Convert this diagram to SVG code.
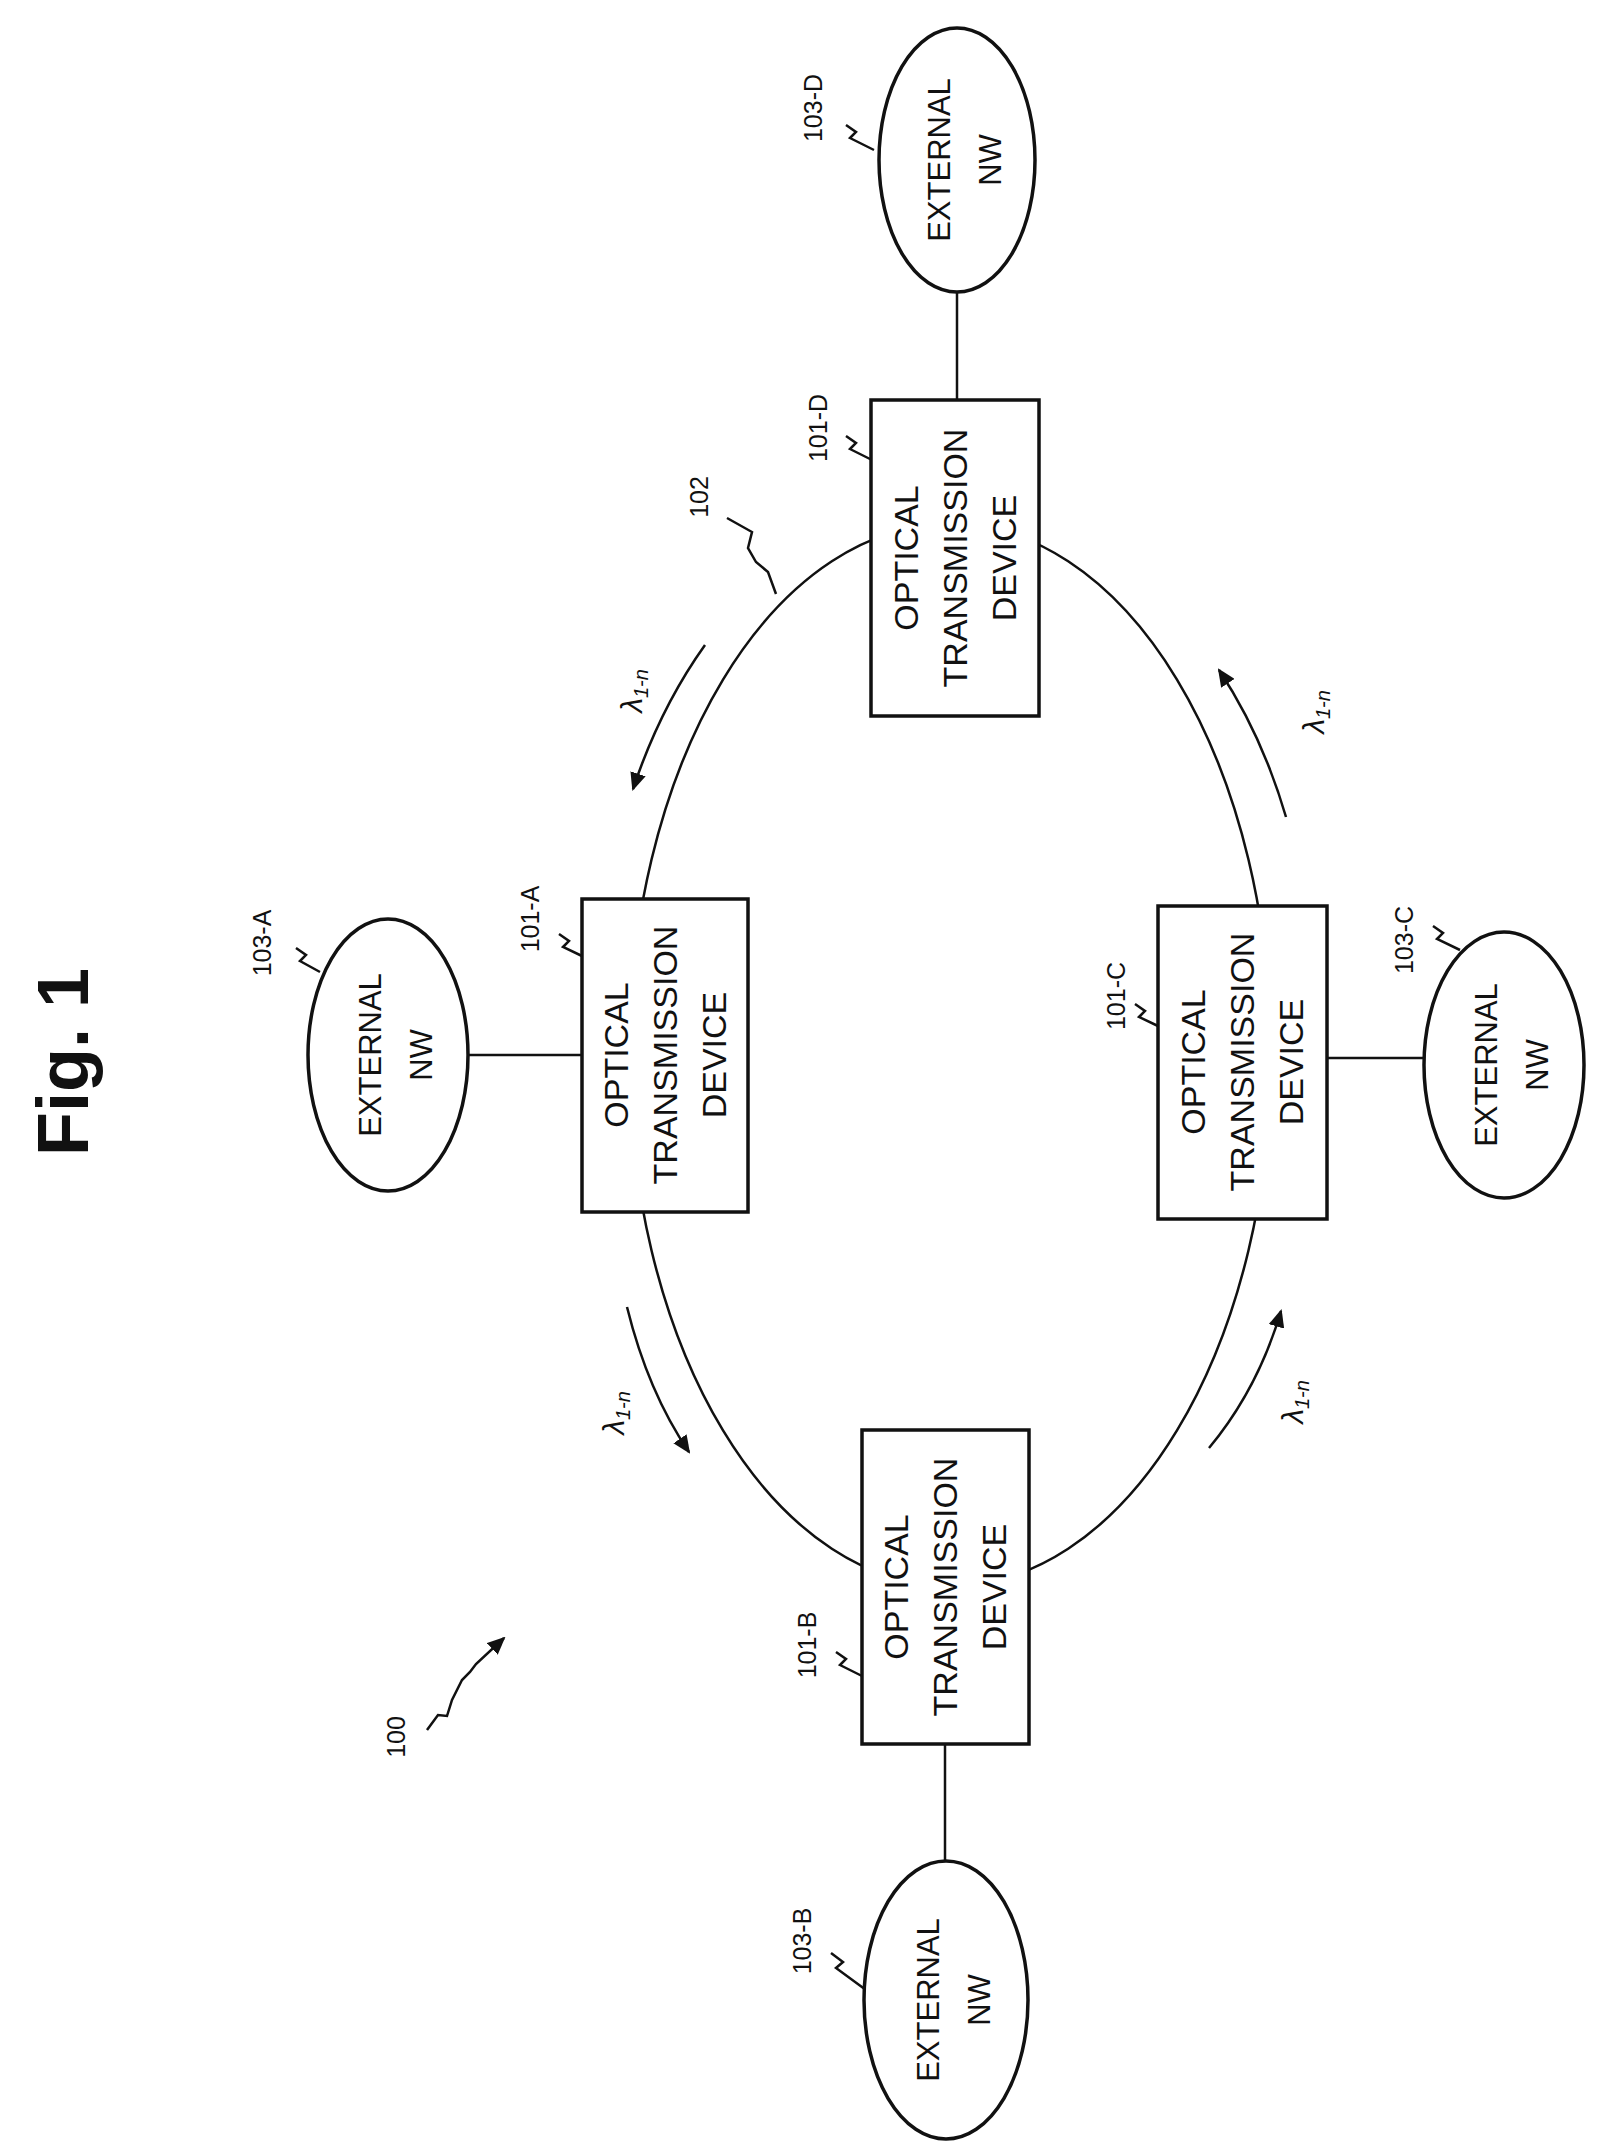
<svg xmlns="http://www.w3.org/2000/svg" width="1612" height="2155" viewBox="0 0 1612 2155">
<style>
.s{fill:none;stroke:#111;stroke-width:2.5}
.b{fill:#fff;stroke:#111;stroke-width:3.5}
.t{font-family:"Liberation Sans",Arial,sans-serif;font-size:34px;fill:#111;text-anchor:middle}
.e{font-family:"Liberation Sans",Arial,sans-serif;font-size:31px;fill:#111;text-anchor:middle}
.l{font-family:"Liberation Sans",Arial,sans-serif;font-size:25px;fill:#111;text-anchor:middle}
.g{font-family:"Liberation Sans",Arial,sans-serif;font-size:30px;fill:#111;text-anchor:middle;font-style:italic}
</style>
<defs>
<marker id="ah" markerWidth="10" markerHeight="10" refX="8" refY="5" orient="auto" markerUnits="userSpaceOnUse" viewBox="0 0 10 10"><path d="M0,0 L10,5 L0,10 z" fill="#111"/></marker>
<marker id="ah2" markerWidth="18" markerHeight="16" refX="16" refY="8" orient="auto" markerUnits="userSpaceOnUse" viewBox="0 0 18 16"><path d="M0,0 L18,8 L0,16 z" fill="#111"/></marker>
</defs>
<text transform="translate(62,1062) rotate(-90)" y="26" style="font-family:'Liberation Sans',Arial,sans-serif;font-size:72px;font-weight:bold;text-anchor:middle;fill:#111">Fig. 1</text>
<g id="connectors">
<ellipse id="ring-102" class="s" cx="950" cy="1055" rx="321" ry="531"/>
<line class="s" x1="957" y1="291" x2="957" y2="400"/>
<line class="s" x1="468" y1="1055" x2="582" y2="1055"/>
<line class="s" x1="1327" y1="1058" x2="1425" y2="1058"/>
<line class="s" x1="945" y1="1744" x2="945" y2="1861"/>
<path class="s" d="M705,645 Q660,708 633,789" marker-end="url(#ah2)"/>
<path class="s" d="M1286,817 Q1262,735 1219,670" marker-end="url(#ah2)"/>
<path class="s" d="M627,1307 Q648,1392 689,1452" marker-end="url(#ah2)"/>
<path class="s" d="M1209,1448 Q1258,1389 1281,1311" marker-end="url(#ah2)"/>
<path class="s" d="M727,518 L752,532 L748,548 L756,562 L768,572 L776,594"/>
<path class="s" d="M427,1730 L438,1715 L447,1716 L452,1700 L462,1680 L470,1672 L476,1664 L504,1638" marker-end="url(#ah2)"/>
<path class="s" d="M846,125 L856,132 L850,138 L874,150"/>
<path class="s" d="M846,436 L856,443 L850,449 L872,460"/>
<path class="s" d="M296,948 L306,955 L300,961 L320,972"/>
<path class="s" d="M559,934 L569,941 L563,947 L582,956"/>
<path class="s" d="M1135,1004 L1145,1011 L1139,1017 L1158,1026"/>
<path class="s" d="M1433,926 L1443,933 L1437,939 L1460,950"/>
<path class="s" d="M836,1652 L846,1659 L840,1665 L862,1676"/>
<path class="s" d="M831,1953 L843,1962 L836,1968 L866,1990"/>
</g>
<g id="node-101-A">
<rect class="b" x="582" y="899" width="166" height="313"/>
<text class="t" transform="translate(665,1055) rotate(-90)"><tspan x="0" y="-37">OPTICAL</tspan><tspan x="0" y="12">TRANSMISSION</tspan><tspan x="0" y="61">DEVICE</tspan></text>
<text class="l" transform="translate(530,919) rotate(-90)" y="9">101-A</text>
</g>
<g id="node-101-B">
<rect class="b" x="862" y="1430" width="167" height="314"/>
<text class="t" transform="translate(945,1587) rotate(-90)"><tspan x="0" y="-37">OPTICAL</tspan><tspan x="0" y="12">TRANSMISSION</tspan><tspan x="0" y="61">DEVICE</tspan></text>
<text class="l" transform="translate(807,1645) rotate(-90)" y="9">101-B</text>
</g>
<g id="node-101-C">
<rect class="b" x="1158" y="906" width="169" height="313"/>
<text class="t" transform="translate(1242,1062) rotate(-90)"><tspan x="0" y="-37">OPTICAL</tspan><tspan x="0" y="12">TRANSMISSION</tspan><tspan x="0" y="61">DEVICE</tspan></text>
<text class="l" transform="translate(1116,996) rotate(-90)" y="9">101-C</text>
</g>
<g id="node-101-D">
<rect class="b" x="871" y="400" width="168" height="316"/>
<text class="t" transform="translate(955,558) rotate(-90)"><tspan x="0" y="-37">OPTICAL</tspan><tspan x="0" y="12">TRANSMISSION</tspan><tspan x="0" y="61">DEVICE</tspan></text>
<text class="l" transform="translate(818,428) rotate(-90)" y="9">101-D</text>
</g>
<g id="node-103-A">
<ellipse class="b" cx="388" cy="1055" rx="80" ry="136"/>
<text class="e" transform="translate(388,1055) rotate(-90)"><tspan x="0" y="-7">EXTERNAL</tspan><tspan x="0" y="44">NW</tspan></text>
<text class="l" transform="translate(262,943) rotate(-90)" y="9">103-A</text>
</g>
<g id="node-103-B">
<ellipse class="b" cx="946" cy="2000" rx="82" ry="139"/>
<text class="e" transform="translate(946,2000) rotate(-90)"><tspan x="0" y="-7">EXTERNAL</tspan><tspan x="0" y="44">NW</tspan></text>
<text class="l" transform="translate(802,1941) rotate(-90)" y="9">103-B</text>
</g>
<g id="node-103-C">
<ellipse class="b" cx="1504" cy="1065" rx="80" ry="133"/>
<text class="e" transform="translate(1504,1065) rotate(-90)"><tspan x="0" y="-7">EXTERNAL</tspan><tspan x="0" y="44">NW</tspan></text>
<text class="l" transform="translate(1404,940) rotate(-90)" y="9">103-C</text>
</g>
<g id="node-103-D">
<ellipse class="b" cx="957" cy="160" rx="78" ry="132"/>
<text class="e" transform="translate(957,160) rotate(-90)"><tspan x="0" y="-7">EXTERNAL</tspan><tspan x="0" y="44">NW</tspan></text>
<text class="l" transform="translate(813,108) rotate(-90)" y="9">103-D</text>
</g>
<g id="labels">
<text class="l" transform="translate(699,497) rotate(-90)" y="9">102</text>
<text class="l" transform="translate(396,1737) rotate(-90)" y="9">100</text>
<text class="g" transform="translate(632,691) rotate(-90)" y="10">λ<tspan font-size="20" dy="6">1-n</tspan></text>
<text class="g" transform="translate(1314,712) rotate(-90)" y="10">λ<tspan font-size="20" dy="6">1-n</tspan></text>
<text class="g" transform="translate(614,1413) rotate(-90)" y="10">λ<tspan font-size="20" dy="6">1-n</tspan></text>
<text class="g" transform="translate(1293,1402) rotate(-90)" y="10">λ<tspan font-size="20" dy="6">1-n</tspan></text>
</g>
</svg>
